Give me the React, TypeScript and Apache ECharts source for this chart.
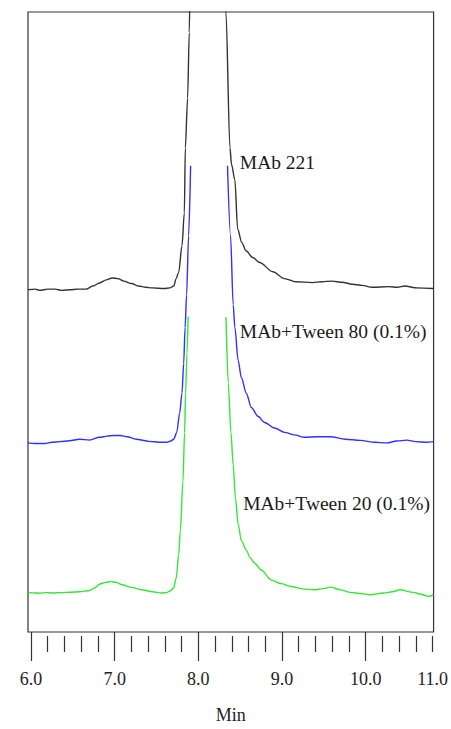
import React, { useEffect, useRef } from "react";
import * as echarts from "echarts";

// Retention time (min) and detector signal (arbitrary units, stacked traces)
const blackTime = [5.964, 6.05, 6.107, 6.2, 6.284, 6.37, 6.462, 6.56, 6.66, 6.74, 6.82, 6.9, 6.97, 7.04, 7.11, 7.2, 7.29, 7.37, 7.45, 7.59, 7.66, 7.706, 7.735, 7.765, 7.805, 7.833, 7.845, 7.872, 7.892, 7.9, 8.1, 8.326, 8.33, 8.378, 8.397, 8.437, 8.47, 8.52, 8.57, 8.65, 8.733, 8.891, 9.03, 9.164, 9.365, 9.48, 9.6, 9.72, 9.84, 9.96, 10.076, 10.277, 10.38, 10.467, 10.61, 10.81];
const blackSignal = [55.2, 55.3, 55.1, 55.3, 55.3, 55.1, 55.2, 55.3, 55.3, 55.8, 56.3, 56.8, 57.1, 57.0, 56.6, 56.2, 55.8, 55.6, 55.5, 55.4, 55.5, 55.8, 57.0, 58.0, 62.3, 67.6, 78.1, 86.1, 96.7, 104, null, 104, 100, 78.1, 75.4, 72.9, 65.0, 62.8, 61.5, 60.4, 59.6, 58.1, 57.0, 56.5, 56.35, 56.5, 56.6, 56.4, 56.1, 55.9, 55.6, 55.7, 55.6, 55.8, 55.5, 55.4];

const blueTime = [5.964, 6.05, 6.166, 6.25, 6.344, 6.462, 6.58, 6.7, 6.82, 6.91, 6.995, 7.07, 7.15, 7.256, 7.41, 7.53, 7.623, 7.67, 7.706, 7.742, 7.777, 7.805, 7.825, 7.842, 7.86, 7.884, 7.908, 8.1, 8.349, 8.385, 8.417, 8.437, 8.476, 8.515, 8.574, 8.634, 8.713, 8.793, 8.91, 9.03, 9.15, 9.267, 9.424, 9.578, 9.756, 9.934, 10.11, 10.254, 10.37, 10.49, 10.6, 10.727, 10.81];
const blueSignal = [30.5, 30.4, 30.4, 30.6, 30.7, 30.85, 31.1, 30.95, 31.4, 31.6, 31.7, 31.7, 31.5, 31.1, 30.75, 30.6, 30.6, 30.8, 31.1, 32.2, 35.3, 38.5, 43.3, 49.1, 54.4, 63.9, 75.2, null, 75.2, 64.0, 52.8, 49.1, 43.8, 41.0, 38.5, 36.2, 34.8, 33.8, 32.9, 32.2, 31.8, 31.4, 31.5, 31.5, 31.1, 30.9, 30.6, 30.5, 30.8, 30.95, 30.7, 30.6, 30.7];

const greenTime = [5.964, 6.05, 6.107, 6.18, 6.26, 6.36, 6.462, 6.58, 6.7, 6.76, 6.82, 6.89, 6.956, 7.02, 7.09, 7.2, 7.327, 7.45, 7.564, 7.62, 7.667, 7.706, 7.736, 7.765, 7.785, 7.816, 7.836, 7.848, 7.864, 7.878, 8.1, 8.331, 8.358, 8.39, 8.417, 8.444, 8.476, 8.515, 8.574, 8.618, 8.674, 8.752, 8.871, 8.99, 9.108, 9.25, 9.385, 9.49, 9.582, 9.7, 9.819, 9.94, 10.056, 10.214, 10.32, 10.411, 10.57, 10.66, 10.748, 10.81];
const greenSignal = [6.39, 6.3, 6.26, 6.35, 6.29, 6.35, 6.42, 6.5, 6.7, 7.1, 7.72, 8.0, 8.13, 8.0, 7.61, 7.2, 6.81, 6.5, 6.29, 6.35, 6.66, 7.13, 8.72, 12.4, 16.3, 24.2, 32.2, 38.5, 44.8, 50.9, null, 50.76, 40.1, 32.2, 26.9, 21.6, 17.4, 14.7, 13.2, 12.0, 11.1, 10.0, 8.4, 7.8, 7.34, 6.95, 6.81, 7.0, 7.24, 6.8, 6.39, 6.2, 6.02, 6.29, 6.5, 6.81, 6.39, 6.1, 5.75, 5.97];

const seriesNames = ["MAb 221", "MAb+Tween 80 (0.1%)", "MAb+Tween 20 (0.1%)"];
const seriesColors = ["#333333", "#3030ff", "#33e833"];
const labelTime = [8.496, 8.496, 8.536];
const labelSignal = [75.75, 48.5, 20.8];

const majorTicks = [6, 7, 8, 9, 10];
const labelTicks = [6, 7, 8, 9, 10, 10.8];
const tickLabels = ["6.0", "7.0", "8.0", "9.0", "10.0", "11.0"];
const minorTicks = [6.2, 6.4, 6.6, 6.8, 7.2, 7.4, 7.6, 7.8, 8.2, 8.4, 8.6, 8.8, 9.2, 9.4, 9.6, 9.8, 10.2, 10.4, 10.6, 10.8];

const pair = (t: number[], s: (number | null)[]) =>
  t.map((x, i) => [x, s[i] === null ? "-" : s[i]]);

export default function App() {
  const ref = useRef<HTMLDivElement>(null);
  useEffect(() => {
    if (!ref.current) return;
    const chart = echarts.init(ref.current, undefined, { renderer: "svg" });
    const font = "'Liberation Serif', 'Times New Roman', serif";
    const xMin = 6 - 3 / 84.375;
    const xMax = 10.8 + 1 / 84.375;
    const traces = [
      pair(blackTime, blackSignal),
      pair(blueTime, blueSignal),
      pair(greenTime, greenSignal),
    ];
    chart.setOption({
      animation: false,
      grid: {
        left: 28,
        right: 14,
        top: 12,
        bottom: 86,
        show: true,
        borderColor: "#333",
        borderWidth: 1.2,
        backgroundColor: "transparent",
      },
      xAxis: [
        {
          type: "value",
          position: "bottom",
          min: xMin,
          max: xMax,
          offset: 4,
          axisLine: { show: false },
          splitLine: { show: false },
          axisTick: {
            show: true,
            length: 29,
            customValues: majorTicks,
            lineStyle: { color: "#333", width: 1.2 },
          },
          axisLabel: {
            customValues: labelTicks,
            margin: 34,
            fontSize: 18,
            fontFamily: font,
            color: "#222",
            formatter: (v: number) => {
              const i = labelTicks.findIndex((x) => Math.abs(x - v) < 1e-6);
              return i >= 0 ? tickLabels[i] : "";
            },
          },
          name: "Min",
          nameLocation: "middle",
          nameGap: 70,
          nameTextStyle: { fontSize: 18, fontFamily: font, color: "#222" },
        },
        {
          type: "value",
          position: "bottom",
          min: xMin,
          max: xMax,
          offset: 4,
          axisLine: { show: false },
          splitLine: { show: false },
          axisTick: {
            show: true,
            length: 16,
            customValues: minorTicks,
            lineStyle: { color: "#333", width: 1.2 },
          },
          axisLabel: { show: false },
        },
      ],
      yAxis: {
        type: "value",
        min: 0,
        max: 100,
        show: false,
        splitLine: { show: false },
      },
      series: traces.map((d, i) => ({
        type: "line",
        name: seriesNames[i],
        data: d,
        xAxisIndex: 0,
        showSymbol: false,
        symbol: "none",
        smooth: 0.3,
        smoothMonotone: "x",
        connectNulls: false,
        clip: true,
        lineStyle: { color: seriesColors[i], width: 1.4 },
      })),
    });
    const texts = seriesNames.map((name, i) => {
      const p = chart.convertToPixel({ gridIndex: 0 }, [labelTime[i], labelSignal[i]]) as number[];
      return {
        type: "text",
        x: p[0],
        y: p[1],
        style: {
          text: name,
          fontSize: 19.5,
          fontFamily: font,
          fill: "#1a1a1a",
          verticalAlign: "middle",
          align: "left",
        },
      };
    });
    chart.setOption({ graphic: texts });
    return () => chart.dispose();
  }, []);
  return (
    <div
      ref={ref}
      style={{ position: "fixed", left: 0, top: 0, width: 451, height: 729, background: "#fff" }}
    />
  );
}
